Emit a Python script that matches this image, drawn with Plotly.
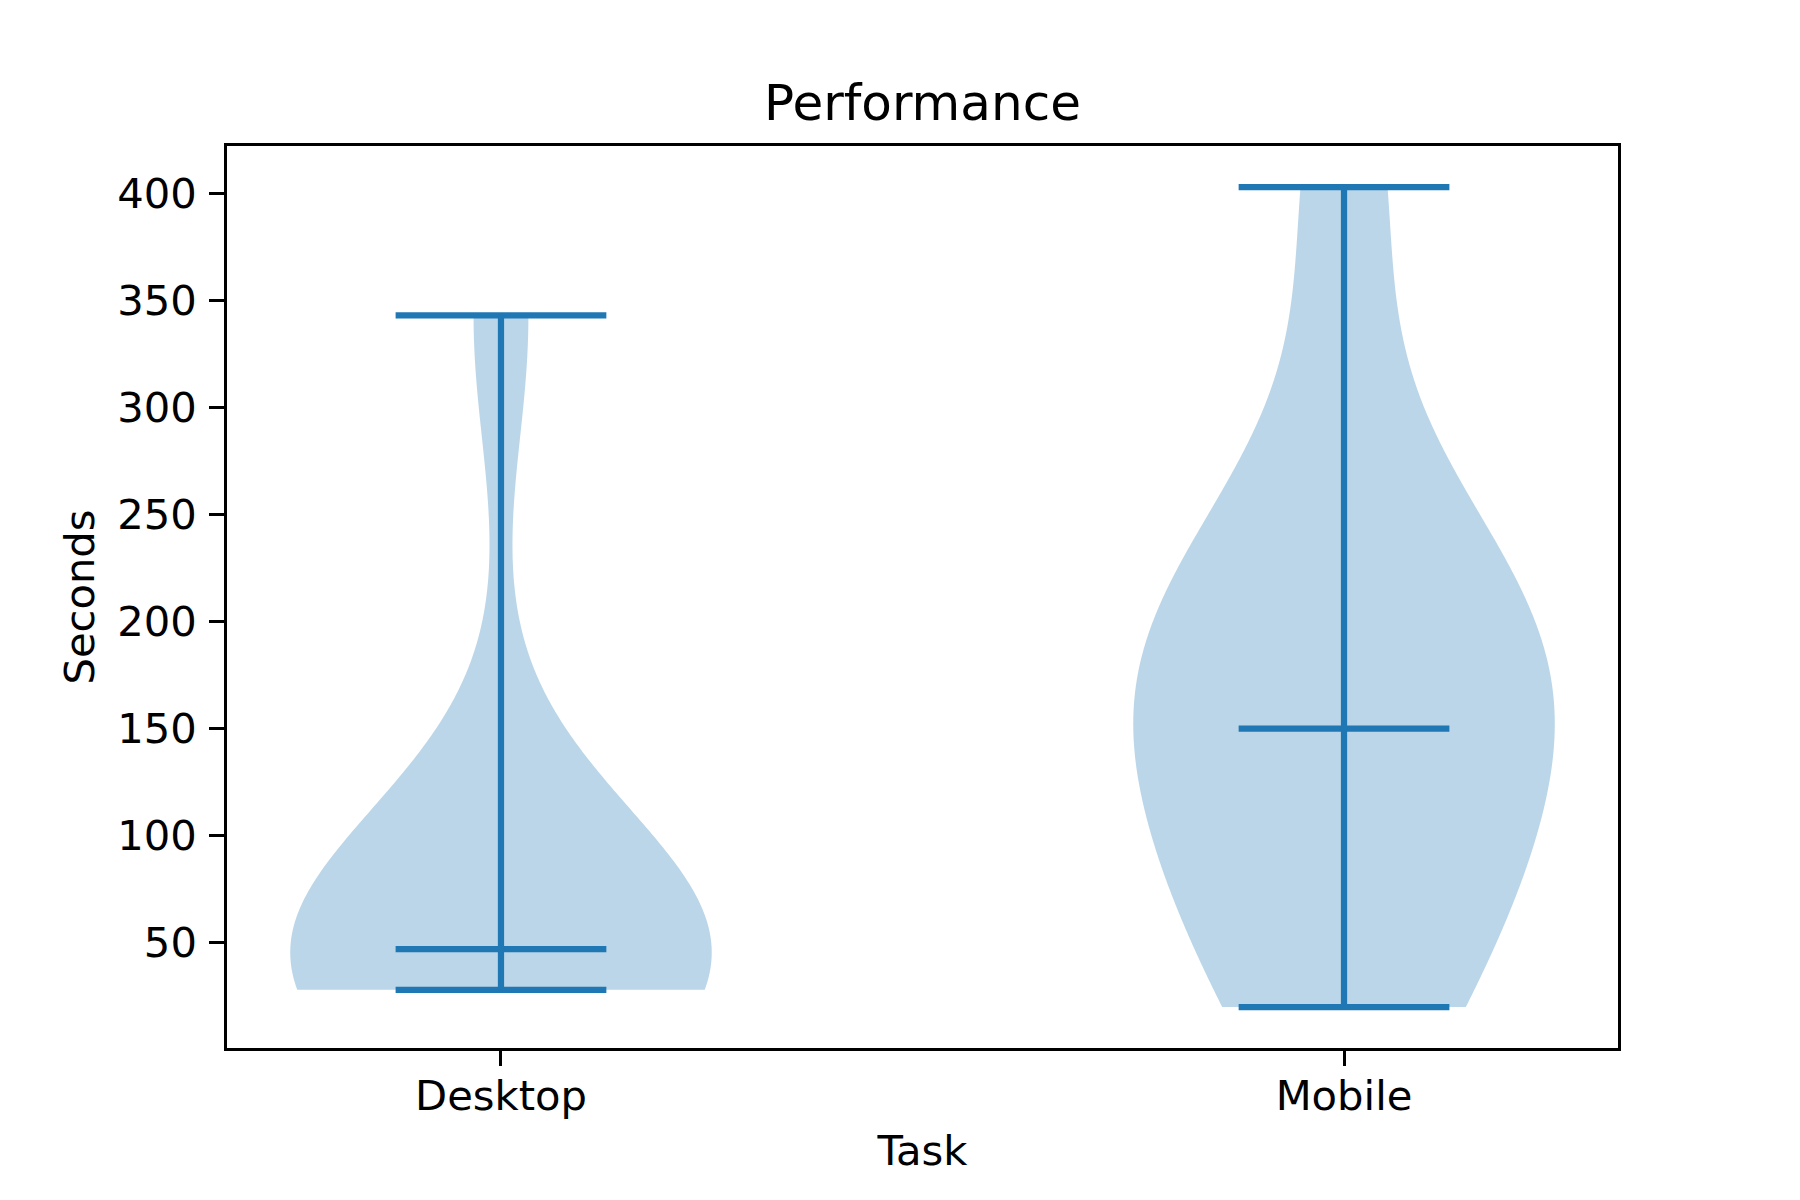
import numpy as np
import plotly.graph_objects as go

# ---- data (seconds per participant) ----
categories = ["Desktop", "Mobile"]
desktop_seconds = [28, 31, 38, 42, 47, 47, 48, 93, 343]
mobile_seconds = [20, 48, 89, 146, 150, 194, 197, 238, 403]
y_ticks = [50, 100, 150, 200, 250, 300, 350, 400]

series = [np.array(desktop_seconds, float), np.array(mobile_seconds, float)]
positions = [1, 2]

C0 = "#1f77b4"
VIOLIN_WIDTH = 0.5
FONT = "DejaVu Sans"
LW = 3.3


def kde_body(vals, n_pts=200):
    """Gaussian KDE (Scott's rule) evaluated between the data min and max."""
    h = len(vals) ** (-1 / 5) * vals.std(ddof=1)
    t = np.linspace(vals.min(), vals.max(), n_pts)
    d = np.exp(-0.5 * ((t[:, None] - vals[None, :]) / h) ** 2).sum(axis=1)
    return t, d / d.max()


fig = go.Figure()

for pos, vals in zip(positions, series):
    t, dens = kde_body(vals)
    half = 0.5 * VIOLIN_WIDTH * dens
    xs = np.concatenate([pos - half, (pos + half)[::-1]])
    ys = np.concatenate([t, t[::-1]])
    fig.add_trace(go.Scatter(x=xs, y=ys, mode="lines", fill="toself",
                             fillcolor="rgba(31,119,180,0.3)",
                             line=dict(width=0, simplify=False),
                             hoverinfo="skip", showlegend=False))

# extrema / median bars and the vertical range line
lx, ly = [], []
for pos, vals in zip(positions, series):
    half = VIOLIN_WIDTH / 4
    for v in (vals.min(), vals.max(), np.median(vals)):
        lx += [pos - half, pos + half, None]
        ly += [v, v, None]
    lx += [pos, pos, None]
    ly += [vals.min(), vals.max(), None]
fig.add_trace(go.Scatter(x=lx, y=ly, mode="lines", line=dict(color=C0, width=6.25),
                         hoverinfo="skip", showlegend=False))

allv = np.concatenate(series)
ypad = 0.05 * (allv.max() - allv.min())
xlo, xhi = min(positions) - VIOLIN_WIDTH / 2, max(positions) + VIOLIN_WIDTH / 2
xpad = 0.05 * (xhi - xlo)

axis_common = dict(showline=True, linecolor="black", linewidth=LW, mirror=True,
                   ticks="outside", ticklen=14.6, tickwidth=LW, tickcolor="black",
                   showgrid=False, zeroline=False,
                   tickfont=dict(family=FONT, size=41.7, color="black"))

fig.update_layout(
    width=1800, height=1200,
    margin=dict(l=225 + LW / 2, r=180 + LW / 2, t=144 + LW / 2, b=150 + LW / 2),
    paper_bgcolor="white", plot_bgcolor="white",
    font=dict(family=FONT, color="black"),
    title=dict(text="Performance", x=0.5125, xanchor="center", xref="container",
               y=1 - 120 / 1200, yanchor="bottom", yref="container",
               font=dict(family=FONT, size=50, color="black")),
    xaxis=dict(axis_common, range=[xlo - xpad, xhi + xpad], tickvals=positions, ticktext=categories,
               ticklabelstandoff=-6,
               title=dict(text="Task", standoff=18, font=dict(family=FONT, size=41.7, color="black"))),
    yaxis=dict(axis_common, range=[allv.min() - ypad, allv.max() + ypad], tickvals=y_ticks,
               ticklabelstandoff=4,
               title=dict(text="Seconds", standoff=10, font=dict(family=FONT, size=41.7, color="black"))),
)

fig.write_html("out.html")
